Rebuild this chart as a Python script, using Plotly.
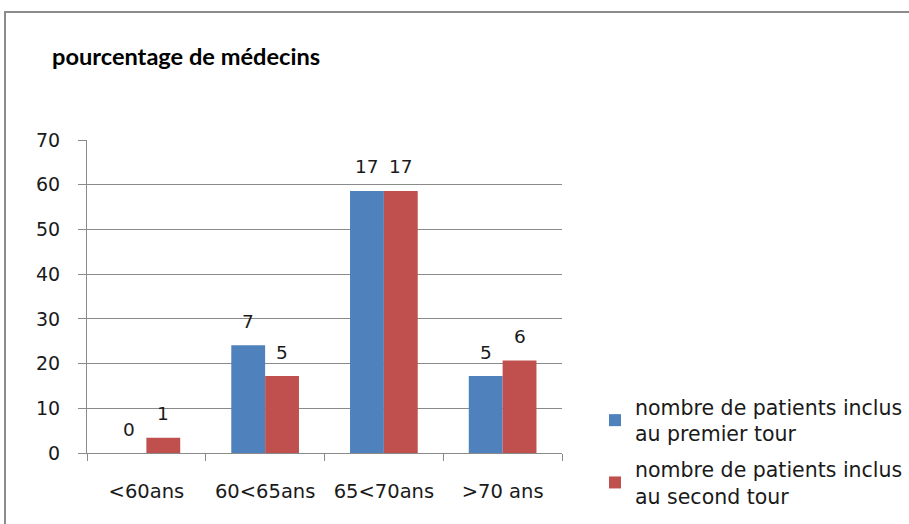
import plotly.graph_objects as go

# Age bands of the physicians
categories = ["<60ans", "60<65ans", "65<70ans", ">70 ans"]

# Share of physicians (%) per age band, and the head counts shown above the bars
premier_pct = [0, 24.1, 58.6, 17.2]
premier_n = [0, 7, 17, 5]
second_pct = [3.4, 17.2, 58.6, 20.7]
second_n = [1, 5, 17, 6]

series_names = [
    "nombre de patients inclus<br>au premier tour",
    "nombre de patients inclus<br>au second tour",
]
y_ticks = [0, 10, 20, 30, 40, 50, 60, 70]

BLUE = "#4F81BD"
RED = "#C0504D"
GRID = "#8A8A8A"
TXT = "#1a1a1a"
FONT = "DejaVu Sans"

fig = go.Figure()
fig.add_trace(go.Bar(
    x=categories, y=premier_pct, name=series_names[0],
    marker=dict(color=BLUE, line=dict(width=0)),
    legendgroup="a",
))
fig.add_trace(go.Bar(
    x=categories, y=second_pct, name=series_names[1],
    marker=dict(color=RED, line=dict(width=0)),
    legendgroup="b",
))

# Count labels above each bar
for vals, counts, dx in ((premier_pct, premier_n, -17), (second_pct, second_n, 17)):
    for c, v, n in zip(categories, vals, counts):
        fig.add_annotation(
            x=c, y=v, text=str(n), showarrow=False,
            xshift=dx, yshift=24, yanchor="middle",
            font=dict(family=FONT, size=18.5, color=TXT),
        )

# Outer frame of the chart area
W, H = 909, 524
L, R, T, B = 87, 347, 140, 71
pw, ph = W - L - R, H - T - B
fig.add_shape(
    type="rect", xref="paper", yref="paper",
    x0=(5 - L) / pw, x1=(W + 5 - L) / pw,
    y0=(H - B - (H + 5)) / ph, y1=(H - B - 12) / ph,
    line=dict(color="#8c8c8c", width=2), fillcolor="rgba(0,0,0,0)",
    layer="below",
)

fig.update_layout(
    width=W, height=H,
    margin=dict(l=L, r=R, t=T, b=B, autoexpand=False),
    paper_bgcolor="white", plot_bgcolor="white",
    barmode="group", bargap=0.43, bargroupgap=0,
    font=dict(family=FONT, size=18, color=TXT),
    title=dict(
        text="<b>pourcentage de médecins</b>",
        xref="container", yref="container",
        x=52 / W, xanchor="left", y=1 - 57 / H, yanchor="middle",
        font=dict(family="Lato", size=23.6, color="#000000"),
    ),
    showlegend=True,
    legend=dict(
        x=(595 - L) / pw, xanchor="left",
        y=(H - B - 387) / ph, yanchor="top",
        font=dict(family=FONT, size=20.5, color=TXT),
        traceorder="grouped", tracegroupgap=6,
        bgcolor="rgba(0,0,0,0)",
    ),
    xaxis=dict(
        type="category", tickson="boundaries", automargin=False,
        ticks="outside", ticklen=7, tickcolor=GRID,
        showline=True, linecolor=GRID, linewidth=1,
        showgrid=False, ticklabelstandoff=21,
        tickfont=dict(family=FONT, size=19.5, color=TXT),
    ),
    yaxis=dict(
        range=[0, 70], tickvals=y_ticks, automargin=False,
        ticks="outside", ticklen=8, tickcolor=GRID,
        showline=True, linecolor=GRID, linewidth=1,
        showgrid=True, gridcolor=GRID, gridwidth=1,
        zeroline=False, ticklabelstandoff=14,
        tickfont=dict(family=FONT, size=19, color=TXT),
    ),
)

fig.write_html("out.html")
